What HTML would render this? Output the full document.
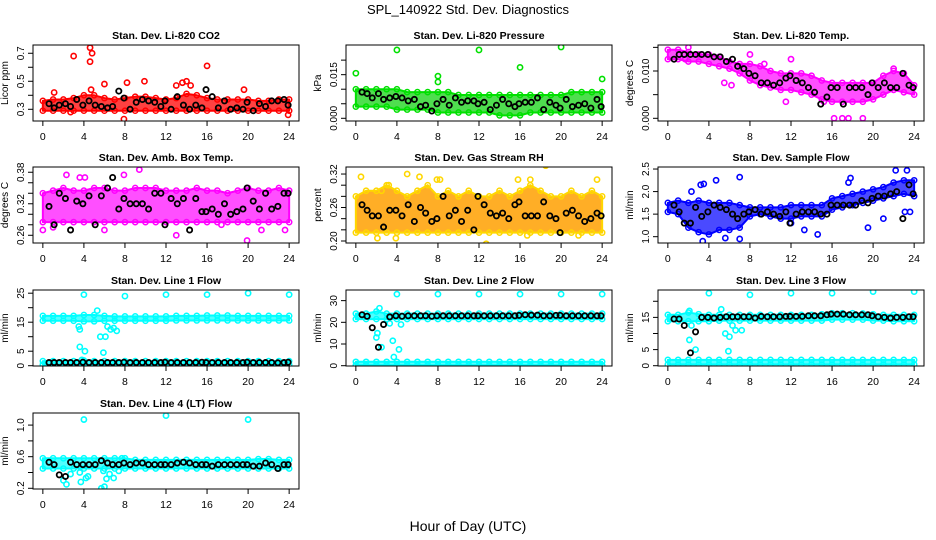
<!DOCTYPE html>
<html><head><meta charset="utf-8"><style>
html,body{margin:0;padding:0;background:#fff;}
svg{display:block;font-family:"Liberation Sans",sans-serif;}
</style></head><body>
<svg id="c" width="936" height="540" viewBox="0 0 936 540">
<text x="468" y="14" text-anchor="middle" font-size="13">SPL_140922  Std. Dev. Diagnostics</text>
<text x="468" y="531" text-anchor="middle" font-size="14">Hour of Day (UTC)</text>
</svg>
<script>
const hours=[0,1,2,3,4,5,6,7,8,9,10,11,12,13,14,15,16,17,18,19,20,21,22,23,24];
const blackX=[0.6,1.1,1.6,2.2,2.7,3.3,3.9,4.5,5.1,5.7,6.3,6.8,7.4,7.9,8.5,9.1,9.7,10.3,10.9,11.5,11.9,12.5,13.1,13.7,14.3,14.9,15.5,15.9,16.5,17.1,17.7,18.3,18.9,19.5,19.9,20.5,21.1,21.7,22.3,22.9,23.5,23.9];
const xTicks=[0,4,8,12,16,20,24];
const titles=["Stan. Dev. Li-820 CO2","Stan. Dev. Li-820 Pressure","Stan. Dev. Li-820 Temp.","Stan. Dev. Amb. Box Temp.","Stan. Dev. Gas Stream RH","Stan. Dev. Sample Flow","Stan. Dev. Line 1 Flow","Stan. Dev. Line 2 Flow","Stan. Dev. Line 3 Flow","Stan. Dev. Line 4 (LT) Flow"];
const yTitles=["Licor ppm","kPa","degrees C","degrees C","percent","ml/min","ml/min","ml/min","ml/min","ml/min"];
const yTicks=[[0.3,0.4,0.5,0.6,0.7],[0,0.005,0.01,0.015,0.02],[0,0.005,0.01,0.015],[0.26,0.28,0.3,0.32,0.34,0.36,0.38],[0.2,0.22,0.24,0.26,0.28,0.3,0.32],[1,1.5,2,2.5],[0,5,10,15,20,25],[0,10,20,30],[0,5,10,15,20],[0.2,0.4,0.6,0.8,1.0]];
const yTickLabels=[["0.3","","0.5","","0.7"],["0.000","","","0.015",""],["0.000","","0.010",""],["0.26","","","0.32","","","0.38"],["0.20","","","0.26","","","0.32"],["1.0","1.5","2.0","2.5"],["0","5","","15","","25"],["0","10","20","30"],["0","5","","15",""],["0.2","","0.6","","1.0"]];
const yDomains=[[0.2164,0.759],[-0.00093,0.0252],[-0.00057,0.0155],[0.2453,0.390],[0.1964,0.3326],[0.86,2.545],[-0.1,26.1],[-0.14,34.9],[-0.09,23.5],[0.191,1.153]];
const colors=["#ff0000","#00e000","#ff00ff","#ff00ff","#ffd700","#0000ff","#00ffff","#00ffff","#00ffff","#00ffff"];
const fills=["#ff2020","#30d830","#ff30ff","#ff30ff","#ffa000","#2a2aff","#30ffff","#30ffff","#30ffff","#30ffff"];
const bandLo=[
 [[.29,.29,.29,.29,.29,.29,.29,.29,.29,.29,.29,.29,.29,.29,.29,.29,.29,.29,.29,.29,.29,.29,.29,.29,.29]],
 [[.004,.004,.004,.004,.003,.003,.003,.003,.002,.002,.002,.002,.002,.002,.001,.001,.001,.002,.002,.002,.002,.002,.002,.002,.002]],
 [[.0125,.0125,.012,.012,.0115,.011,.0105,.0095,.008,.007,.0065,.006,.006,.0055,.005,.004,.0035,.0035,.0035,.0035,.004,.005,.006,.0055,.005]],
 [[.285,.285,.285,.285,.285,.285,.285,.285,.285,.285,.285,.285,.285,.285,.285,.285,.285,.285,.285,.285,.285,.285,.285,.285,.285]],
 [[.215,.215,.215,.215,.215,.215,.215,.215,.215,.215,.215,.215,.215,.215,.215,.215,.215,.215,.215,.215,.215,.215,.215,.215,.215]],
 [[1.55,1.5,1.2,1.1,1.05,1.15,1.15,1.2,1.45,1.5,1.45,1.4,1.4,1.45,1.45,1.45,1.6,1.65,1.7,1.75,1.8,1.85,1.9,1.95,1.9]],
 [[15.5,15.5,15.5,15.5,15.3,15.3,15.5,15.5,15.5,15.5,15.5,15.5,15.5,15.6,15.6,15.6,15.6,15.6,15.6,15.6,15.6,15.6,15.6,15.6,15.6],[0.4,0.4,0.4,0.4,0.4,0.4,0.4,0.4,0.4,0.4,0.4,0.4,0.4,0.4,0.4,0.4,0.4,0.4,0.4,0.4,0.4,0.4,0.4,0.4,0.4]],
 [[21.5,21.5,21.5,21.5,21.5,21.5,21.5,21.5,21.5,21.5,21.5,21.5,21.5,21.5,21.5,21.5,21.5,21.5,21.5,21.5,21.5,21.5,21.5,21.5,21.5],[0.2,0.2,0.2,0.2,0.2,0.2,0.2,0.2,0.2,0.2,0.2,0.2,0.2,0.2,0.2,0.2,0.2,0.2,0.2,0.2,0.2,0.2,0.2,0.2,0.2]],
 [[13.8,13.8,13.8,13.8,13.8,14,14,14,14,14,14,14,14,14,14,14,14.3,14.3,14.3,14.3,14,14,13.8,13.8,13.8],[0.4,0.4,0.4,0.4,0.4,0.4,0.4,0.4,0.4,0.4,0.4,0.4,0.4,0.4,0.4,0.4,0.4,0.4,0.4,0.4,0.4,0.4,0.4,0.4,0.4]],
 [[.45,.45,.45,.45,.45,.45,.45,.45,.45,.45,.45,.45,.45,.45,.45,.45,.45,.45,.45,.45,.45,.45,.45,.45,.45]]];
const bandHi=[
 [[.36,.37,.37,.38,.40,.40,.38,.37,.38,.39,.39,.38,.37,.38,.41,.40,.38,.37,.37,.37,.37,.36,.36,.37,.37]],
 [[.010,.010,.010,.010,.010,.009,.009,.009,.009,.009,.008,.008,.008,.008,.008,.008,.008,.008,.008,.008,.008,.009,.009,.009,.009]],
 [[.0145,.0145,.014,.0135,.0135,.013,.012,.0115,.0115,.011,.010,.0095,.0095,.0095,.009,.008,.0075,.0075,.0075,.0075,.0075,.009,.0100,.0095,.007]],
 [[.34,.345,.35,.345,.345,.35,.35,.345,.345,.35,.35,.35,.345,.345,.345,.35,.345,.345,.34,.345,.35,.345,.345,.35,.345]],
 [[.28,.29,.29,.30,.29,.28,.29,.30,.28,.29,.28,.29,.28,.28,.29,.28,.29,.30,.29,.28,.28,.29,.28,.29,.28]],
 [[1.75,1.8,1.75,1.8,1.75,1.75,1.75,1.7,1.65,1.65,1.65,1.65,1.7,1.7,1.7,1.7,1.85,1.9,1.95,2.0,2.05,2.1,2.2,2.25,2.25]],
 [[17.2,17.2,17.2,17.2,17.5,17.5,17.2,17,17,17,17,17,17,17.2,17.2,17.2,17.3,17.3,17.3,17.2,17.2,17.2,17.2,17.2,17.2],[1.6,1.6,1.6,1.6,1.8,1.6,1.6,1.6,1.6,1.6,1.6,1.6,1.6,1.6,1.6,1.6,1.6,1.6,1.6,1.6,1.6,1.6,1.6,1.6,1.6]],
 [[24,24,25,24,24,24,24,24,24,24,24,24,24,24,24,24,24,24,24,24,24,24,24,24,24],[1.8,1.8,1.8,1.8,1.8,1.8,1.8,1.8,1.8,1.8,1.8,1.8,1.8,1.8,1.8,1.8,1.8,1.8,1.8,1.8,1.8,1.8,1.8,1.8,1.8]],
 [[15.8,15.8,16.5,16,15.8,15.8,15.8,15.8,15.8,15.8,15.8,15.8,15.8,15.8,15.8,16,16.3,16.3,16.3,16.2,16,15.8,15.8,15.8,15.8],[1.8,1.8,1.8,1.8,1.8,1.8,1.8,1.8,1.8,1.8,1.8,1.8,1.8,1.8,1.8,1.8,1.8,1.8,1.8,1.8,1.8,1.8,1.8,1.8,1.8]],
 [[.58,.58,.58,.58,.58,.58,.58,.58,.58,.56,.56,.56,.56,.56,.56,.56,.56,.56,.56,.56,.56,.57,.57,.56,.56]]];
const outliers=[
 [[3,.68],[4.6,.74],[4.8,.70],[4.6,.64],[4.7,.44],[6,.48],[8.2,.49],[9.9,.50],[13,.47],[13.6,.49],[14,.50],[14.4,.47],[16,.61],[7.9,.23],[23.9,.26],[19.6,.44],[2.7,.28],[1.1,.42]],
 [[0,.0155],[4,.0235],[8,.0145],[8,.0125],[12,.0235],[16,.0175],[20,.0245],[24,.0135]],
 [[2,.015],[1.7,.0125],[5.5,.0075],[6.2,.007],[8,.0135],[11.5,.0035],[12,.0125],[16.2,0],[17,0],[17.6,0],[19,0],[15.2,.0035],[9.4,.0115],[22,.0105]],
 [[0,.27],[2.3,.375],[3.6,.37],[4.1,.37],[7.9,.375],[9.4,.385],[13,.26],[19.9,.25],[21.3,.27],[23.6,.27],[1,.275],[6,.27],[17.4,.28]],
 [[.5,.315],[2.5,.29],[3.2,.30],[5,.32],[6.2,.315],[7.9,.31],[8.2,.31],[15.8,.31],[18.5,.335],[17,.31],[23.5,.31],[2.1,.205],[12.7,.195],[16.7,.21],[21.7,.21],[3.9,.205]],
 [[3.2,2.15],[3.5,2.17],[4.7,2.25],[7,2.32],[3.4,0.9],[7,0.95],[12,1.3],[13.3,1.15],[14.6,1.05],[17.6,2.2],[17.8,2.3],[19.5,1.2],[21,1.4],[22.2,2.47],[23.3,2.47],[23.1,1.55],[23.6,1.55],[2.3,2.0],[5.6,0.97]],
 [[4,24.5],[8,24],[12,24.5],[16,24.5],[20,25],[24,24.5],[3.5,13.5],[3.6,12.5],[3.6,6.5],[4.1,5],[5.3,19],[5.6,10],[6.1,10],[5.9,4.5],[6.3,13.5],[6.6,12.5],[7.2,12],[6.9,13],[3.8,2]],
 [[4,33],[8,33],[12,33],[16,33],[20,33],[24,33],[2.3,26.5],[2.1,15],[2.0,13],[2.5,8.5],[3.6,11.5],[3.7,4],[4.2,7.5],[4.4,19],[3.3,19.5]],
 [[4,22.5],[8,22],[12,22.5],[16,22.5],[20,23],[24,23],[2.1,17],[2.3,12.5],[2.1,8],[2.7,5],[5.2,17.5],[5.6,10],[6,9],[5.9,4.5],[6.3,12.5],[6.6,11],[7.2,11]],
 [[4,1.07],[12,1.12],[20,1.07],[2.3,0.25],[2.0,0.3],[3.7,0.28],[3.6,0.4],[4.2,0.33],[4.4,0.35],[2.7,0.38],[5.7,0.2],[6,0.22],[5.9,0.42],[6.2,0.32],[6.5,0.38],[6.9,0.33],[7.4,0.42],[7.7,0.58]]];
const blackY=[
 [.34,.31,.33,.34,.32,.37,.33,.36,.33,.32,.31,.32,.43,.38,.30,.35,.37,.36,.35,.32,.36,.30,.39,.33,.30,.33,.31,.44,.39,.31,.36,.30,.31,.30,.35,.29,.34,.32,.36,.36,.37,.33],
 [.009,.0085,.007,.0085,.0065,.007,.0075,.007,.006,.0065,.004,.0045,.0025,.005,.0065,.0045,.007,.0055,.006,.006,.005,.0055,.003,.0045,.0065,.005,.004,.005,.0055,.0055,.007,.003,.0055,.0045,.0035,.0065,.004,.0045,.005,.0035,.0065,.004],
 [.0125,.0135,.0135,.0135,.0135,.0135,.0135,.013,.013,.012,.0125,.011,.0105,.0095,.009,.0075,.0075,.007,.0075,.0085,.009,.008,.0075,.0065,.0055,.003,.0045,.0065,.0065,.003,.0065,.0065,.0065,.005,.0075,.0065,.0075,.0065,.0065,.0095,.007,.0065],
 [.315,.28,.34,.33,.27,.325,.32,.335,.28,.335,.35,.37,.31,.33,.32,.32,.32,.31,.34,.34,.28,.33,.32,.33,.27,.33,.305,.305,.31,.30,.32,.30,.305,.31,.35,.325,.31,.34,.31,.315,.34,.34],
 [.265,.255,.245,.245,.225,.255,.255,.245,.265,.235,.26,.25,.235,.24,.28,.245,.255,.235,.255,.22,.28,.265,.25,.245,.25,.24,.265,.27,.245,.245,.245,.27,.245,.24,.215,.25,.255,.245,.235,.24,.25,.245],
 [1.7,1.55,1.3,1.3,1.65,1.45,1.55,1.7,1.65,1.6,1.5,1.4,1.5,1.55,1.6,1.5,1.55,1.5,1.45,1.55,1.3,1.5,1.55,1.55,1.55,1.5,1.5,1.7,1.7,1.7,1.7,1.7,1.8,1.75,1.85,1.9,1.9,1.95,2.0,1.4,2.15,1.95],
 [1.1,1.1,1.1,1.1,1.1,1.1,1.2,1.1,1.1,1.1,1.1,1.1,1.1,1.2,1.1,1.1,1.1,1.1,1.1,1.1,1.2,1.1,1.1,1.1,1.1,1.1,1.2,1.1,1.1,1.1,1.1,1.1,1.1,1.1,1.2,1.1,1.1,1.1,1.1,1.0,1.1,1.2],
 [23.5,22.8,17.5,8.5,19,22.5,23,22.8,23,23,23,23,22.8,23,23,23,23,23,23,23,23,23,23,23,23,23,23,23.2,23.5,23.3,23.3,23,23,23.2,23.2,23,23,23,23,23,23,23],
 [14.5,14.5,12.5,4,10.5,15,15,14.8,15,15.2,15.2,15.2,15.2,15.2,14.8,15.3,15.2,15.2,15.2,15.3,15.3,15.3,15.3,15.5,15.5,15.5,15.8,16,16,16,15.8,15.8,15.8,15.8,15.5,15.2,15,14.8,15,15,15.2,15.2],
 [.53,.5,.37,.35,.53,.5,.5,.5,.5,.55,.52,.5,.5,.52,.5,.52,.52,.5,.5,.5,.5,.5,.52,.53,.52,.5,.5,.5,.48,.5,.5,.5,.5,.5,.5,.48,.48,.52,.5,.45,.5,.5]];

const NS="http://www.w3.org/2000/svg";
const svg=document.getElementById('c');
const colLeft=[33,346,658],rowTop=[45,167,290,413],W=266,H=76;
function mk(tag,attrs,parent){const e=document.createElementNS(NS,tag);for(const k in attrs)e.setAttribute(k,attrs[k]);(parent||svg).appendChild(e);return e;}
function slug(s){return s.toLowerCase().replace(/[^a-z0-9]+/g,'-').replace(/^-|-$/g,'');}
for(let p=0;p<10;p++){
  const L=colLeft[p%3],T=rowTop[Math.floor(p/3)];
  const xs=v=>L+(v+0.96)/25.92*W;
  const [d0,d1]=yDomains[p];
  const ys=v=>T+H-(v-d0)/(d1-d0)*H;
  const g=mk('g',{});
  
  
  const clipId='clip'+p;
  const cp=mk('clipPath',{id:clipId},g);mk('rect',{x:L,y:T,width:W,height:H},cp);
  const pg=mk('g',{'clip-path':'url(#'+clipId+')'},g);
  bandLo[p].forEach((lo,b)=>{
    const hi=bandHi[p][b];
    let pts=hours.map((h,i)=>xs(h)+','+ys(hi[i])).join(' ')+' '+hours.slice().reverse().map((h,j)=>{const i=hours.length-1-j;return xs(h)+','+ys(lo[i]);}).join(' ');
    const poly=mk('polygon',{points:pts,fill:fills[p],'fill-opacity':0.85,stroke:colors[p],'stroke-width':2,'stroke-linejoin':'round'},pg);
    
    
    hours.forEach((h,i)=>{
      [lo[i],hi[i]].forEach(v=>{
        const c=mk('circle',{cx:xs(h),cy:ys(v),r:2.6,fill:'none',stroke:colors[p],'stroke-width':1.5},pg);
        
        
      });
    });
  });
  outliers[p].forEach(o=>{
    const c=mk('circle',{cx:xs(o[0]),cy:ys(o[1]),r:2.6,fill:'none',stroke:colors[p],'stroke-width':1.6},pg);
    
    
  });
  blackX.forEach((x,i)=>{
    const c=mk('circle',{cx:xs(x),cy:ys(blackY[p][i]),r:2.6,fill:'none',stroke:'#000','stroke-width':1.8},pg);
    
    
  });
  const box=mk('rect',{x:L,y:T,width:W,height:H,fill:'none',stroke:'#000','stroke-width':1},g);
  
  
  const tt=mk('text',{x:L+W/2,y:T-6,'text-anchor':'middle','font-size':10.5,'font-weight':'bold'},g);tt.textContent=titles[p];
  
  
  xTicks.forEach(t=>{
    mk('line',{x1:xs(t),x2:xs(t),y1:T+H,y2:T+H+5,stroke:'#000'},g);
    const tx=mk('text',{x:xs(t),y:T+H+19,'text-anchor':'middle','font-size':10.5},g);tx.textContent=t;
    
    
  });
  yTicks[p].forEach((t,i)=>{
    const y=ys(t);
    mk('line',{x1:L-5,x2:L,y1:y,y2:y,stroke:'#000'},g);
    if(yTickLabels[p][i]){
      const tx=mk('text',{x:L-9,y:y,'text-anchor':'middle','font-size':10,transform:'rotate(-90 '+(L-9)+' '+y+')'},g);tx.textContent=yTickLabels[p][i];
      
      
    }
  });
  const yl=mk('text',{x:L-25,y:T+H/2,'text-anchor':'middle','font-size':10,transform:'rotate(-90 '+(L-25)+' '+(T+H/2)+')'},g);yl.textContent=yTitles[p];
  
  
}
</script>
</body></html>
